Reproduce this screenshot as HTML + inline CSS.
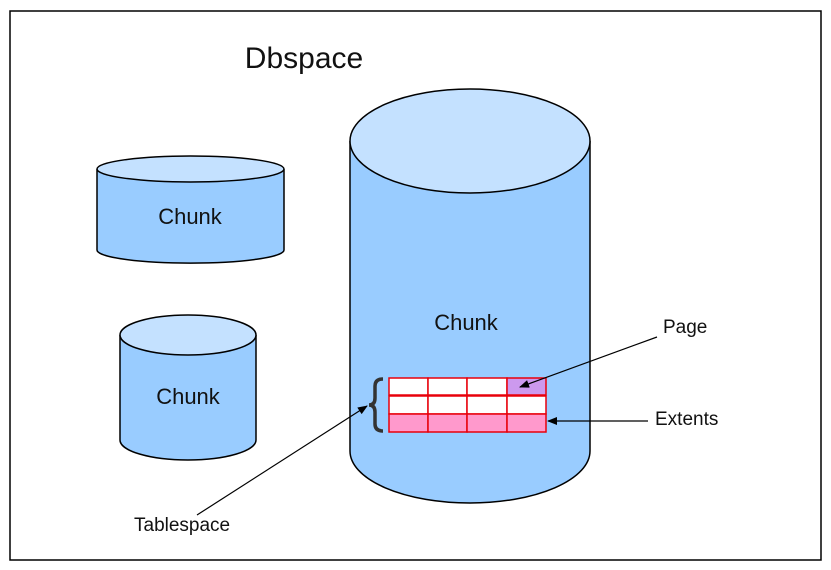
<!DOCTYPE html>
<html><head><meta charset="utf-8"><style>
html,body{margin:0;padding:0;background:#fff;}
svg{display:block;}
text{font-family:"Liberation Sans",Arial,sans-serif;fill:#111;}
</style></head><body>
<svg width="831" height="570" viewBox="0 0 831 570" xmlns="http://www.w3.org/2000/svg">
<defs><marker id="ah" markerWidth="10" markerHeight="8" refX="9" refY="4" orient="auto" markerUnits="userSpaceOnUse"><path d="M0,0 L10,4 L0,8 z" fill="#000"/></marker></defs>
<rect x="10" y="11" width="811" height="549" fill="#fff" stroke="#000" stroke-width="1.5"/>
<text x="304" y="68" font-size="30" text-anchor="middle">Dbspace</text>
<!-- cyl1 -->
<path d="M97,169 L97,250 A93,13 0 0 0 284,250 L284,169" fill="#99ccff" stroke="#000" stroke-width="1.5"/>
<ellipse cx="190.5" cy="169" rx="93.5" ry="13" fill="#c4e1ff" stroke="#000" stroke-width="1.5"/>
<text x="190" y="224" font-size="22" text-anchor="middle">Chunk</text>
<!-- cyl2 -->
<path d="M120,335 L120,440 A68,20 0 0 0 256,440 L256,335" fill="#99ccff" stroke="#000" stroke-width="1.5"/>
<ellipse cx="188" cy="335" rx="68" ry="20" fill="#c4e1ff" stroke="#000" stroke-width="1.5"/>
<text x="188" y="404" font-size="22" text-anchor="middle">Chunk</text>
<!-- big -->
<path d="M350,141 L350,451 A120,52 0 0 0 590,451 L590,141" fill="#99ccff" stroke="#000" stroke-width="1.5"/>
<ellipse cx="470" cy="141" rx="120" ry="52" fill="#c4e1ff" stroke="#000" stroke-width="1.5"/>
<text x="466" y="330" font-size="22" text-anchor="middle">Chunk</text>
<!-- grid -->
<g stroke="#e8000b" stroke-width="1.5">
<rect x="389" y="378" width="39" height="17" fill="#fff"/>
<rect x="428" y="378" width="39" height="17" fill="#fff"/>
<rect x="467" y="378" width="40" height="17" fill="#fff"/>
<rect x="507" y="378" width="39" height="17" fill="#cc99ee"/>
<rect x="389" y="396" width="39" height="18" fill="#fff"/>
<rect x="428" y="396" width="39" height="18" fill="#fff"/>
<rect x="467" y="396" width="40" height="18" fill="#fff"/>
<rect x="507" y="396" width="39" height="18" fill="#fff"/>
<rect x="389" y="414" width="39" height="18" fill="#ff99cc"/>
<rect x="428" y="414" width="39" height="18" fill="#ff99cc"/>
<rect x="467" y="414" width="40" height="18" fill="#ff99cc"/>
<rect x="507" y="414" width="39" height="18" fill="#ff99cc"/>
</g>
<path d="M383,379 Q375,379 375,386 L375,398 Q375,405 369,405 Q375,405 375,412 L375,424 Q375,431 383,431" fill="none" stroke="#333" stroke-width="3.5"/>
<!-- arrows -->
<line x1="657" y1="337" x2="520" y2="387" stroke="#000" stroke-width="1.2" marker-end="url(#ah)"/>
<line x1="648" y1="421" x2="548" y2="421" stroke="#000" stroke-width="1.2" marker-end="url(#ah)"/>
<line x1="197" y1="515" x2="367" y2="406" stroke="#000" stroke-width="1.2" marker-end="url(#ah)"/>
<text x="663" y="333" font-size="19">Page</text>
<text x="655" y="425" font-size="19">Extents</text>
<text x="134" y="531" font-size="19">Tablespace</text>
</svg>
</body></html>
